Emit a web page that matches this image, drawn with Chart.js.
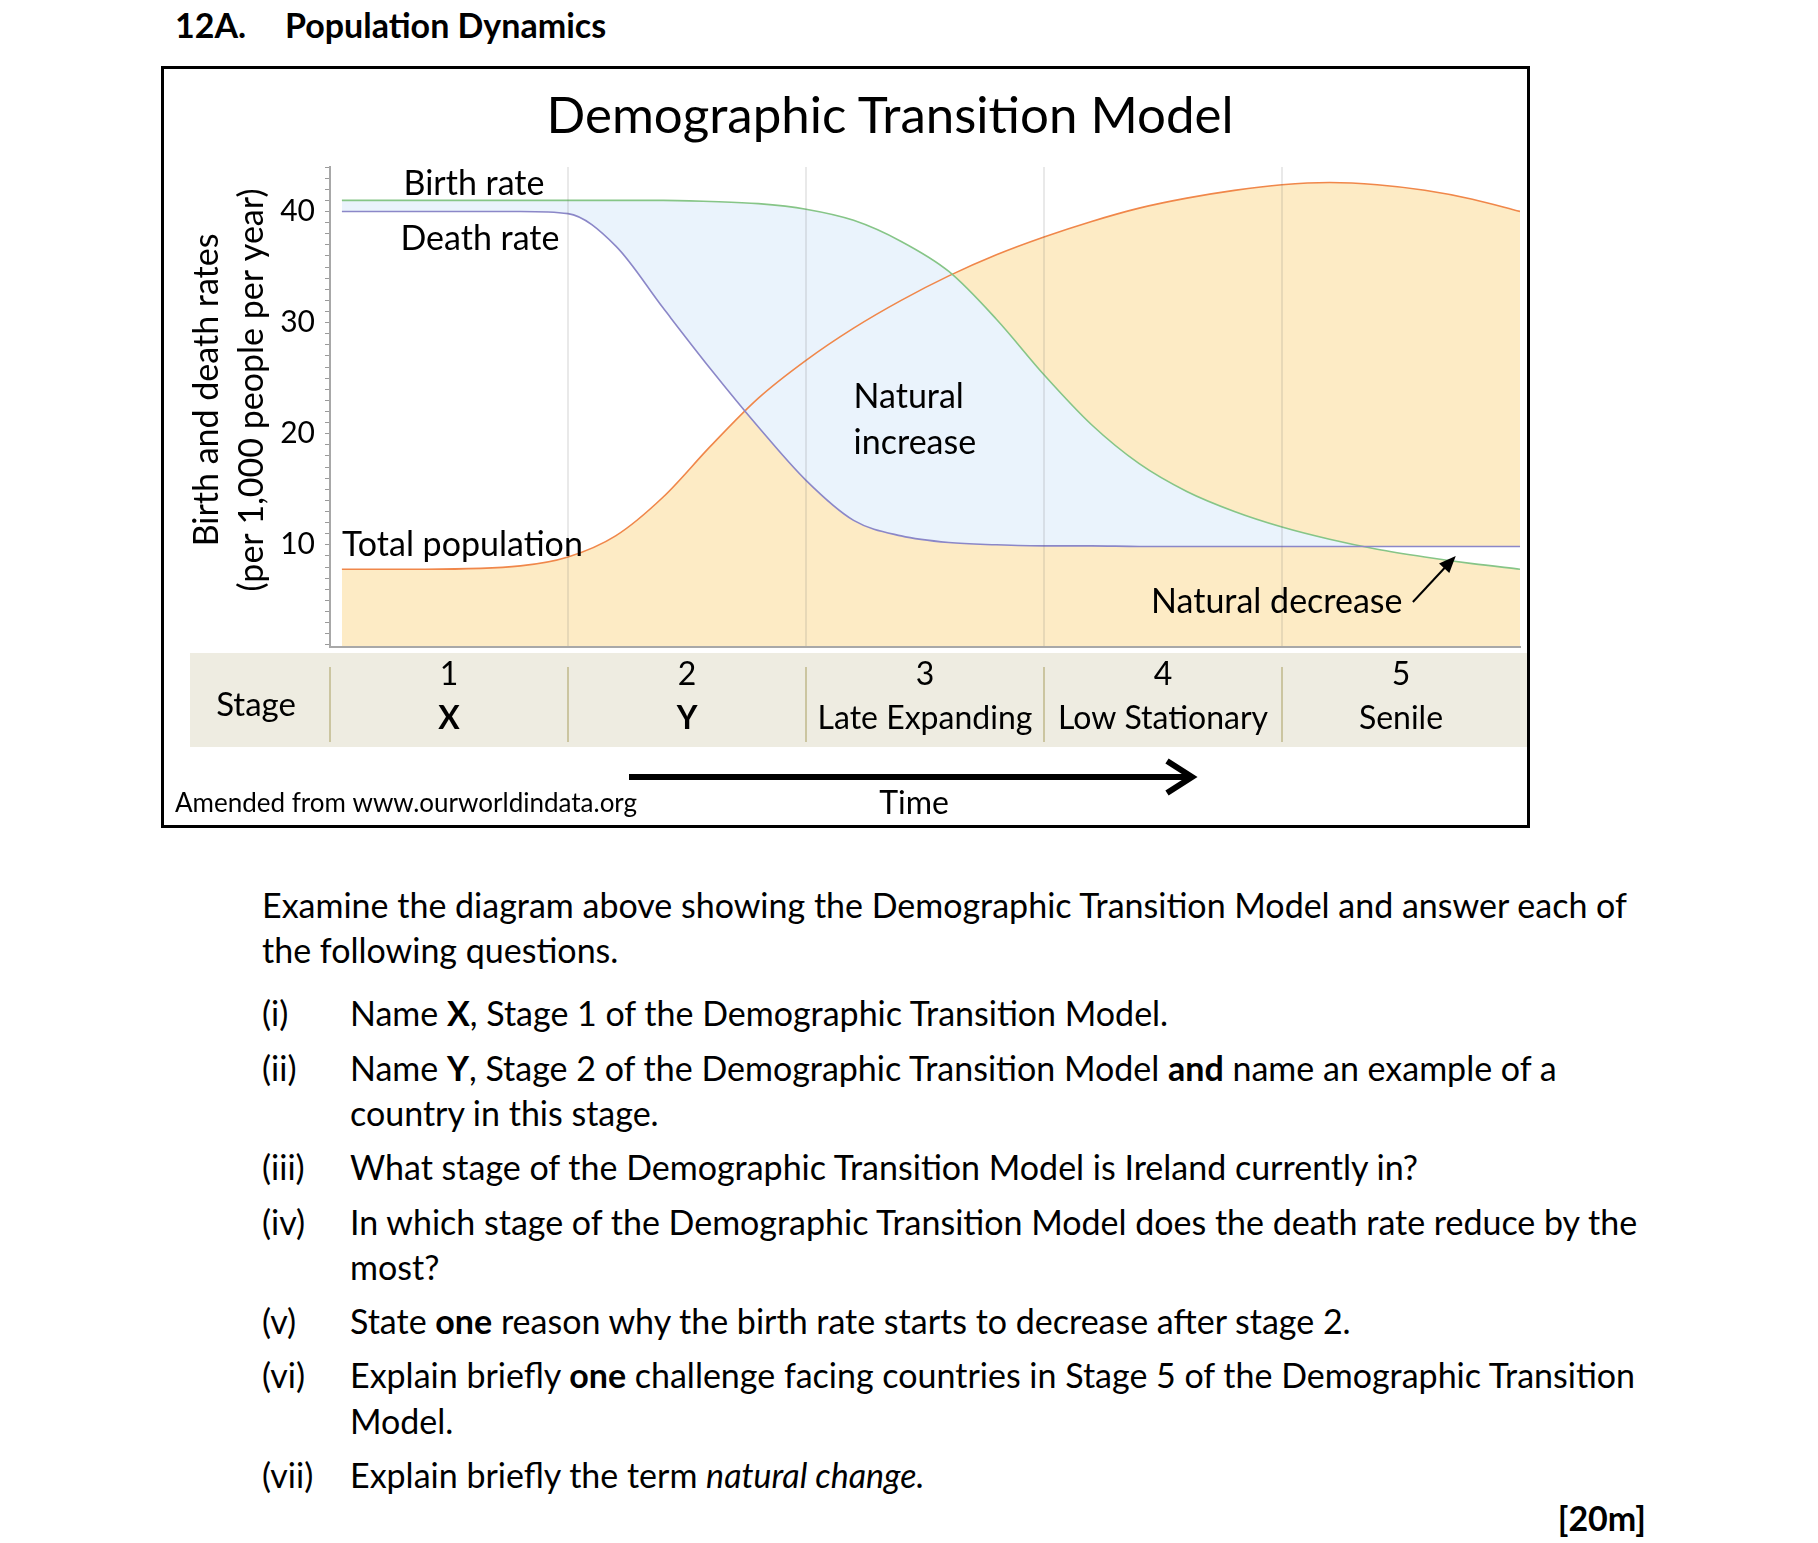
<!DOCTYPE html>
<html>
<head>
<meta charset="utf-8">
<script src="https://cdn.jsdelivr.net/npm/chart.js"></script>
<style>
  body { margin: 0; background: #fff; font-family: Lato, sans-serif; color: #000; }
  #page { position: relative; width: 1818px; height: 1543px; overflow: hidden; }
  .t { position: absolute; white-space: nowrap; line-height: 40px; font-size: 34px; }
  .h { font-weight: bold; font-size: 34px; line-height: 38px; }
  #box { position: absolute; left: 161px; top: 66px; width: 1363px; height: 756px; border: 3px solid #000; }
  #dtm { position: absolute; left: 166px; top: 71px; }
  #title { position: absolute; left: 890px; top: 82px; transform: translateX(-50%); font-size: 51px; line-height: 64px; white-space: nowrap; }
</style>
</head>
<body>
<div id="page">
  <div class="t h" style="left:175px; top:6px;">12A.</div>
  <div class="t h" style="left:285px; top:6px;">Population Dynamics</div>

  <div id="box"></div>
  <canvas id="dtm" width="1362" height="757"></canvas>
  <div id="title">Demographic Transition Model</div>

  <div class="t" style="left:262px; top:885px;">Examine the diagram above showing the Demographic Transition Model and answer each of</div>
  <div class="t" style="left:262px; top:930px;">the following questions.</div>

  <div class="t" style="left:262px; top:993px;">(i)</div>
  <div class="t" style="left:350px; top:993px;">Name <b>X</b>, Stage 1 of the Demographic Transition Model.</div>
  <div class="t" style="left:262px; top:1048px;">(ii)</div>
  <div class="t" style="left:350px; top:1048px;">Name <b>Y</b>, Stage 2 of the Demographic Transition Model <b>and</b> name an example of a</div>
  <div class="t" style="left:350px; top:1093px;">country in this stage.</div>
  <div class="t" style="left:262px; top:1147px;">(iii)</div>
  <div class="t" style="left:350px; top:1147px;">What stage of the Demographic Transition Model is Ireland currently in?</div>
  <div class="t" style="left:262px; top:1202px;">(iv)</div>
  <div class="t" style="left:350px; top:1202px;">In which stage of the Demographic Transition Model does the death rate reduce by the</div>
  <div class="t" style="left:350px; top:1247px;">most?</div>
  <div class="t" style="left:262px; top:1301px;">(v)</div>
  <div class="t" style="left:350px; top:1301px;">State <b>one</b> reason why the birth rate starts to decrease after stage 2.</div>
  <div class="t" style="left:262px; top:1355px;">(vi)</div>
  <div class="t" style="left:350px; top:1355px;">Explain briefly <b>one</b> challenge facing countries in Stage 5 of the Demographic Transition</div>
  <div class="t" style="left:350px; top:1401px;">Model.</div>
  <div class="t" style="left:262px; top:1455px;">(vii)</div>
  <div class="t" style="left:350px; top:1455px;">Explain briefly the term <i>natural change.</i></div>
  <div class="t" style="right:172px; top:1498px; font-weight:bold;">[20m]</div>
</div>

<script>
// time in "stage" units: 0 = start of stage 1, 5 = end of stage 5
var time = [0.05, 0.4, 0.8, 1.0, 1.2, 1.4, 1.6, 1.8, 2.0, 2.2, 2.4, 2.6,
            2.8, 3.0, 3.2, 3.4, 3.6, 3.8, 4.0, 4.2, 4.4, 4.6, 4.8, 5.0];
var birthRate = [41, 41, 41, 41, 41, 41, 40.9, 40.7, 40.2, 39.2, 37.3, 34.6,
                 30.3, 25.3, 20.8, 17.3, 14.8, 13.0, 11.6, 10.5, 9.6, 8.9, 8.3, 7.8];
var deathRate = [40, 40, 40, 39.8, 36.9, 31.3, 25.8, 20.6, 15.8, 12.2, 10.8, 10.2,
                 10.0, 9.9, 9.9, 9.85, 9.85, 9.85, 9.85, 9.85, 9.85, 9.85, 9.85, 9.85];
var totalPopulation = [7.8, 7.8, 8.1, 8.9, 10.8, 14.3, 18.9, 23.2, 26.6, 29.5, 32.0, 34.2,
                       36.1, 37.7, 39.1, 40.3, 41.2, 41.9, 42.4, 42.6, 42.4, 41.9, 41.1, 40.0];

var stageNumbers = ["1", "2", "3", "4", "5"];
var stageNames = ["X", "Y", "Late Expanding", "Low Stationary", "Senile"];
var stageBounds = [0, 1, 2, 3, 4, 5];
var yTickLabels = [10, 20, 30, 40];

var yMinor = [];
for (var i = 1; i <= 44; i++) yMinor.push(i);

function pts(values) {
  return values.map(function (v, i) { return { x: time[i], y: v }; });
}

// text labels inside the plot, in data units
var notes = [
  { text: "Birth rate", x: 0.605, y: 42.5, align: "center" },
  { text: "Death rate", x: 0.63, y: 37.5, align: "center" },
  { text: "Total population", x: 0.05, y: 10.0, align: "left" },
  { text: "Natural", x: 2.2, y: 23.3, align: "left" },
  { text: "increase", x: 2.2, y: 19.2, align: "left" },
  { text: "Natural decrease", x: 3.45, y: 4.85, align: "left" }
];
var decreaseArrow = { from: [4.55, 4.85], to: [4.73, 9.0] };

var decor = {
  id: "decor",
  beforeDraw: function (chart) {
    var ctx = chart.ctx, xs = chart.scales.x;
    ctx.save();
    ctx.fillStyle = "#eeece1";
    ctx.fillRect(24, 582, 1337, 94);
    ctx.strokeStyle = "#cbc5a0";
    ctx.lineWidth = 2;
    stageBounds.slice(0, 5).forEach(function (v) {
      var px = xs.getPixelForValue(v);
      ctx.beginPath(); ctx.moveTo(px, 596); ctx.lineTo(px, 671); ctx.stroke();
    });
    ctx.fillStyle = "#000";
    ctx.font = "33px Lato";
    ctx.textAlign = "center";
    ctx.textBaseline = "middle";
    ctx.fillText("Stage", 90, 634);
    ctx.restore();
  },
  afterDraw: function (chart) {
    var ctx = chart.ctx, xs = chart.scales.x, ys = chart.scales.y;
    ctx.save();
    ctx.fillStyle = "#000";
    ctx.strokeStyle = "#000";
    ctx.font = "34px Lato";
    ctx.textBaseline = "middle";
    notes.forEach(function (n) {
      ctx.textAlign = n.align;
      ctx.fillText(n.text, xs.getPixelForValue(n.x), ys.getPixelForValue(n.y));
    });

    // arrow to the natural decrease gap
    var x1 = xs.getPixelForValue(decreaseArrow.from[0]), y1 = ys.getPixelForValue(decreaseArrow.from[1]);
    var x2 = xs.getPixelForValue(decreaseArrow.to[0]), y2 = ys.getPixelForValue(decreaseArrow.to[1]);
    var a = Math.atan2(y2 - y1, x2 - x1);
    ctx.lineWidth = 2;
    ctx.beginPath(); ctx.moveTo(x1, y1); ctx.lineTo(x2 - 10 * Math.cos(a), y2 - 10 * Math.sin(a)); ctx.stroke();
    ctx.beginPath();
    ctx.moveTo(x2, y2);
    ctx.lineTo(x2 - 17 * Math.cos(a) + 7 * Math.sin(a), y2 - 17 * Math.sin(a) - 7 * Math.cos(a));
    ctx.lineTo(x2 - 17 * Math.cos(a) - 7 * Math.sin(a), y2 - 17 * Math.sin(a) + 7 * Math.cos(a));
    ctx.closePath(); ctx.fill();

    // time arrow
    ctx.lineWidth = 6;
    ctx.beginPath(); ctx.moveTo(463, 706); ctx.lineTo(1022, 706); ctx.stroke();
    ctx.lineJoin = "miter";
    ctx.beginPath(); ctx.moveTo(1001, 690); ctx.lineTo(1026, 706); ctx.lineTo(1001, 722); ctx.stroke();

    ctx.textAlign = "center";
    ctx.font = "32px Lato";
    ctx.fillText("Time", 748, 733);
    ctx.textAlign = "left";
    ctx.font = "26px Lato";
    ctx.fillText("Amended from www.ourworldindata.org", 9, 733);
    ctx.restore();
  }
};

new Chart("dtm", {
  type: "line",
  data: {
    datasets: [
      {
        label: "Death rate",
        data: pts(deathRate),
        borderColor: "#8b87c8",
        borderWidth: 1.6,
        fill: { target: 1, above: "#ffffff", below: "#eaf3fc" }
      },
      {
        label: "Birth rate",
        data: pts(birthRate),
        borderColor: "#86c587",
        borderWidth: 1.6,
        fill: false
      },
      {
        label: "Total population",
        data: pts(totalPopulation),
        borderColor: "#f0874a",
        backgroundColor: "#fdebc5",
        borderWidth: 1.6,
        fill: "start"
      }
    ]
  },
  options: {
    responsive: false,
    animation: false,
    elements: {
      point: { radius: 0 },
      line: { cubicInterpolationMode: "monotone" }
    },
    layout: { padding: { top: 96, right: 8, bottom: 91, left: 0 } },
    plugins: {
      legend: { display: false },
      tooltip: { enabled: false },
      filler: { drawTime: "beforeDatasetsDraw" }
    },
    scales: {
      x: {
        type: "linear", min: 0, max: 5, position: "bottom", weight: 0,
        afterBuildTicks: function (s) { s.ticks = stageBounds.map(function (v) { return { value: v }; }); },
        ticks: { display: false },
        grid: {
          z: 1,
          drawTicks: false,
          lineWidth: 2,
          color: function (c) {
            var v = c.tick ? c.tick.value : 0;
            return v > 0 && v < 5 ? "rgba(110,110,110,0.15)" : "rgba(0,0,0,0)";
          }
        },
        border: { color: "#a8a8a8", width: 2, z: 1 },
        afterFit: function (s) { s.height = 0; }
      },
      stage: {
        type: "category", labels: stageNumbers, position: "bottom", offset: true, weight: 1,
        grid: { display: false },
        border: { display: false },
        ticks: { color: "#000", font: { family: "Lato", size: 32 }, padding: 0, autoSkip: false, maxRotation: 0 },
        afterFit: function (s) { s.height = 40; }
      },
      stageName: {
        type: "category", labels: stageNames, position: "bottom", offset: true, weight: 2,
        grid: { display: false },
        border: { display: false },
        ticks: {
          color: "#000",
          font: function (c) { return { family: "Lato", size: 32, weight: c.index < 2 ? "bold" : "normal" }; },
          padding: 4, autoSkip: false, maxRotation: 0
        },
        afterFit: function (s) { s.height = 50; }
      },
      y: {
        min: 0.8, max: 44,
        afterBuildTicks: function (s) { s.ticks = yMinor.map(function (v) { return { value: v }; }); },
        ticks: {
          autoSkip: false, padding: 10, color: "#000",
          font: { family: "Lato", size: 30 },
          callback: function (v) { return yTickLabels.indexOf(v) >= 0 ? String(v) : ""; }
        },
        grid: { drawOnChartArea: false, tickLength: 5, color: "#9a9a9a", lineWidth: 1 },
        border: { color: "#a8a8a8", width: 2 },
        title: {
          display: true,
          // leading en-spaces nudge the centred title a little towards the top
          text: ["\u2002\u2002Birth and death rates", "\u2002\u2002(per 1,000 people per year)"],
          color: "#000",
          font: { family: "Lato", size: 34, lineHeight: 1.32 },
          padding: { top: 19, bottom: 0 }
        },
        afterFit: function (s) { s.width = 164; }
      }
    }
  },
  plugins: [decor]
});
</script>
</body>
</html>
